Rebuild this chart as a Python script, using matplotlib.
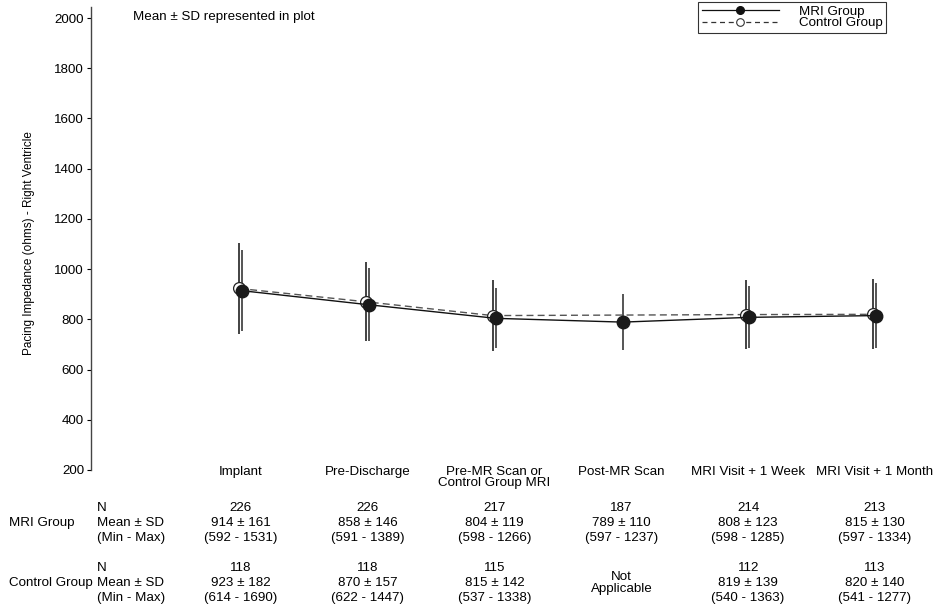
import matplotlib
matplotlib.use("Agg")
import matplotlib.pyplot as plt
import matplotlib.transforms as mtransforms
from matplotlib.lines import Line2D
import numpy as np

plt.rcParams["font.family"] = ["Liberation Sans", "DejaVu Sans"]

# ---- data ----
VISITS = ["Implant", "Pre-Discharge", "Pre-MR Scan or\nControl Group MRI",
          "Post-MR Scan", "MRI Visit + 1 Week", "MRI Visit + 1 Month"]

MRI_N = [226, 226, 217, 187, 214, 213]
MRI_MEAN = [914, 858, 804, 789, 808, 815]
MRI_SD = [161, 146, 119, 110, 123, 130]
MRI_MIN = [592, 591, 598, 597, 598, 597]
MRI_MAX = [1531, 1389, 1266, 1237, 1285, 1334]

CTRL_N = [118, 118, 115, None, 112, 113]
CTRL_MEAN = [923, 870, 815, None, 819, 820]
CTRL_SD = [182, 157, 142, None, 139, 140]
CTRL_MIN = [614, 622, 537, None, 540, 541]
CTRL_MAX = [1690, 1447, 1338, None, 1363, 1277]

Y_TICKS = [200, 400, 600, 800, 1000, 1200, 1400, 1600, 1800, 2000]

W, H = 938, 614
FS = 9.6


def fy(py):
    """Figure fraction from a pixel row measured from the top."""
    return 1 - py / H


fig = plt.figure(figsize=(W / 100, H / 100), dpi=100)
ax = fig.add_axes([91 / W, fy(470), (886 - 91) / W, (470 - 7) / H])

x = np.arange(len(VISITS))
mri_x = x + 0.01
ctrl_idx = [i for i, m in enumerate(CTRL_MEAN) if m is not None]
ctrl_x = x[ctrl_idx] - 0.015
ctrl_mean = np.array([CTRL_MEAN[i] for i in ctrl_idx], dtype=float)
ctrl_sd = np.array([CTRL_SD[i] for i in ctrl_idx], dtype=float)

# error bars (mean +/- SD)
ax.vlines(ctrl_x, ctrl_mean - ctrl_sd, ctrl_mean + ctrl_sd,
          color="#222222", linewidth=1.2, zorder=2)
ax.vlines(mri_x, np.array(MRI_MEAN) - MRI_SD, np.array(MRI_MEAN) + MRI_SD,
          color="#555555", linewidth=1.4, zorder=2)

ax.plot(ctrl_x, ctrl_mean, linestyle=(0, (5, 3)), color="#555555",
        linewidth=1.0, marker="o", markersize=8.5, markerfacecolor="white",
        markeredgecolor="#222222", markeredgewidth=0.9, zorder=3)
ax.plot(mri_x, MRI_MEAN, linestyle="-", color="#111111", linewidth=1.0,
        marker="o", markersize=9, markerfacecolor="#1a1a1a",
        markeredgecolor="#1a1a1a", zorder=4)

ax.set_xlim(-1.183, 5.087)
ax.set_ylim(200, 2044)
ax.set_yticks(Y_TICKS)
ax.tick_params(axis="y", labelsize=FS, length=3, width=0.8, pad=2)
ax.set_xticks([])
for side in ["top", "right", "bottom"]:
    ax.spines[side].set_visible(False)
ax.spines["left"].set_bounds(200, 2044)
ax.spines["left"].set_color("#444444")
ax.spines["left"].set_linewidth(1.0)

ax.set_ylabel("Pacing Impedance (ohms) - Right Ventricle", fontsize=8.5)
ax.yaxis.set_label_coords((35 - 91) / (886 - 91), 0.49)

fig.text(133 / W, fy(17), "Mean \u00b1 SD represented in plot",
         fontsize=FS, ha="left", va="center")

# legend
handles = [
    Line2D([], [], color="#111111", linewidth=0.9, marker="o", markersize=5.5,
           markerfacecolor="#111111", markeredgecolor="#111111"),
    Line2D([], [], color="#333333", linewidth=0.9, linestyle=(0, (4, 3)),
           marker="o", markersize=5.5, markerfacecolor="white",
           markeredgecolor="#333333", markeredgewidth=0.8),
]
leg = fig.legend(handles, ["MRI Group", "Control Group"], loc="upper right",
                 bbox_to_anchor=(886 / W, fy(2)), bbox_transform=fig.transFigure,
                 fontsize=FS, frameon=True, fancybox=False, handlelength=5.8,
                 handletextpad=1.5, borderpad=0.25, labelspacing=-0.05,
                 borderaxespad=0)
leg.get_frame().set_edgecolor("black")
leg.get_frame().set_linewidth(0.8)

# table under the plot
trans = mtransforms.blended_transform_factory(ax.transData, fig.transFigure)
for i, name in enumerate(VISITS):
    ax.text(x[i], fy(466), name, transform=trans, ha="center", va="top",
            fontsize=FS, linespacing=0.9, clip_on=False)

rows_mri = [508, 523, 538]
rows_ctrl = [568, 583, 598]
row_titles = ["N", "Mean \u00b1 SD", "(Min - Max)"]
for rows in (rows_mri, rows_ctrl):
    for r, t in zip(rows, row_titles):
        fig.text(97 / W, fy(r), t, fontsize=FS, ha="left", va="center")
fig.text(9 / W, fy(rows_mri[1]), "MRI Group", fontsize=FS, ha="left",
         va="center")
fig.text(9 / W, fy(rows_ctrl[1]), "Control Group", fontsize=FS, ha="left",
         va="center")

for i in range(len(VISITS)):
    vals = [str(MRI_N[i]), f"{MRI_MEAN[i]} \u00b1 {MRI_SD[i]}",
            f"({MRI_MIN[i]} - {MRI_MAX[i]})"]
    for r, v in zip(rows_mri, vals):
        ax.text(x[i], fy(r), v, transform=trans, ha="center", va="center",
                fontsize=FS, clip_on=False)
    if CTRL_MEAN[i] is None:
        ax.text(x[i], fy(rows_ctrl[1]), "Not\nApplicable", transform=trans,
                ha="center", va="center", fontsize=FS, linespacing=0.95,
                clip_on=False)
        continue
    vals = [str(CTRL_N[i]), f"{CTRL_MEAN[i]} \u00b1 {CTRL_SD[i]}",
            f"({CTRL_MIN[i]} - {CTRL_MAX[i]})"]
    for r, v in zip(rows_ctrl, vals):
        ax.text(x[i], fy(r), v, transform=trans, ha="center", va="center",
                fontsize=FS, clip_on=False)

fig.savefig("out.png", dpi=100)
